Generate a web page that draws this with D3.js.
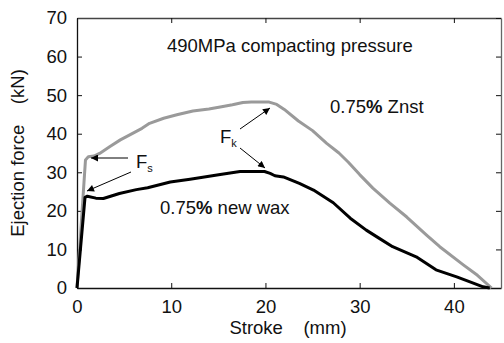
<!DOCTYPE html>
<html><head><meta charset="utf-8">
<script src="https://cdn.jsdelivr.net/npm/d3@7/dist/d3.min.js"></script>
<style>
html,body{margin:0;padding:0;background:#fff;}
text{font-family:"Liberation Sans",Arial,sans-serif;fill:#111;}
</style></head>
<body>
<svg id="chart" width="504" height="343"></svg>
<script>
// Data (Stroke mm, Ejection force kN)
const znstStroke = [0,0.9,1.2,1.8,2.4,3.5,4.6,5.6,6.9,7.7,9.2,10.6,12.3,14,15.2,16.5,17.6,18.5,20.4,21.2,22,23.5,25,26.5,27.8,28.8,30,31.4,33.2,35,37.1,38.5,41,42.5,44];
const znstForce  = [0,33.2,34,34.2,34.9,36.7,38.4,39.7,41.4,42.7,44,44.9,45.9,46.4,46.9,47.5,48.1,48.2,48.2,47.6,46.3,43.3,40.8,37.5,35,32.6,29.4,25.9,22,18.4,13.7,10.7,6,3.3,0];
const waxStroke  = [0,0.85,1.1,2,2.8,4.5,6.3,7.5,9.9,12,15.2,17.3,19.9,20.5,21,21.9,23.6,25.1,27.2,29,30.7,32,33.5,36,38.1,40.3,41.5,43.1,43.8];
const waxForce   = [0,23.5,23.8,23.3,23.2,24.5,25.5,26,27.5,28.2,29.4,30.2,30.2,29.7,29.1,28.8,27.1,25.4,22.1,18.1,15,13,10.7,8.1,4.7,2.9,1.8,0.3,0];
const xTicks = [0,10,20,30,40];
const yTicks = [0,10,20,30,40,50,60,70];
const xDomain = [0,45];
const yDomain = [0,70];
const xLabel = "Stroke\u00a0\u00a0\u00a0\u00a0(mm)";
const yLabel = "Ejection force\u00a0\u00a0\u00a0\u00a0(kN)";
const titleText = "490MPa compacting pressure";

const svg = d3.select("#chart");
const m = {left:77, right:503, top:18, bottom:288};
const x = d3.scaleLinear().domain(xDomain).range([m.left, m.right-2]);
const y = d3.scaleLinear().domain(yDomain).range([m.bottom, m.top]);

svg.append("defs").append("marker")
  .attr("id","arr").attr("viewBox","0 0 10 10").attr("refX",10).attr("refY",5)
  .attr("markerWidth",9).attr("markerHeight",7).attr("markerUnits","userSpaceOnUse")
  .attr("orient","auto")
  .append("path").attr("d","M0,0 L10,5 L0,10 z").attr("fill","#000");

const fs = "18.5px";
const gx = svg.append("g").attr("transform",`translate(0,${m.bottom})`)
  .call(d3.axisBottom(x).tickValues(xTicks).tickSizeInner(-5).tickSizeOuter(0).tickPadding(12));
const gy = svg.append("g").attr("transform",`translate(${m.left},0)`)
  .call(d3.axisLeft(y).tickValues(yTicks).tickSizeInner(-5).tickSizeOuter(0).tickPadding(10));
const gt = svg.append("g").attr("transform",`translate(0,${m.top})`)
  .call(d3.axisTop(x).tickValues(xTicks).tickSizeInner(-5).tickSizeOuter(0).tickFormat(""));
const gr = svg.append("g").attr("transform",`translate(${x(45)},0)`)
  .call(d3.axisRight(y).tickValues(yTicks).tickSizeInner(-5).tickSizeOuter(0).tickFormat(""));
[gx,gy,gt,gr].forEach(g=>{
  g.selectAll("path.domain").attr("stroke","#111").attr("stroke-width",1.3);
  g.selectAll(".tick line").attr("stroke","#111").attr("stroke-width",1);
  g.selectAll("text").style("font-size",fs).style("font-family","'Liberation Sans',Arial,sans-serif").attr("fill","#111");
});
gr.selectAll("path.domain").attr("stroke","#666");
gt.selectAll("path.domain").attr("stroke","#444");

const line = d3.line().x(d=>x(d[0])).y(d=>y(d[1]));
svg.append("path").datum(znstStroke.map((s,i)=>[s,znstForce[i]]))
  .attr("d",line).attr("fill","none").attr("stroke","#9a9a9a").attr("stroke-width",3).attr("stroke-linejoin","round");
svg.append("path").datum(waxStroke.map((s,i)=>[s,waxForce[i]]))
  .attr("d",line).attr("fill","none").attr("stroke","#000").attr("stroke-width",3).attr("stroke-linejoin","round");

svg.append("text").attr("x",288).attr("y",334).attr("text-anchor","middle")
  .style("font-size",fs).text(xLabel);
svg.append("text").attr("transform","translate(24,153) rotate(-90)").attr("text-anchor","middle")
  .style("font-size",fs).text(yLabel);

svg.append("text").attr("x",167).attr("y",52).style("font-size",fs).text(titleText);

const t1 = svg.append("text").attr("x",330).attr("y",113).style("font-size",fs);
t1.append("tspan").text("0.75");
t1.append("tspan").attr("font-weight","bold").text("%");
t1.append("tspan").text(" Znst");
const t2 = svg.append("text").attr("x",160).attr("y",214).style("font-size",fs);
t2.append("tspan").text("0.75");
t2.append("tspan").attr("font-weight","bold").text("%");
t2.append("tspan").text(" new wax");

const fsT = svg.append("text").attr("x",136).attr("y",168).style("font-size",fs);
fsT.append("tspan").text("F");
fsT.append("tspan").attr("dy",4).style("font-size","11px").text("s");
const fkT = svg.append("text").attr("x",220).attr("y",143).style("font-size",fs);
fkT.append("tspan").text("F");
fkT.append("tspan").attr("dy",4).style("font-size","11px").text("k");

const arrows = [[128,158,91,158],[131,172,87,191],[240,129,270,108],[240,148,265,168]];
arrows.forEach(a=>{
  svg.append("line").attr("x1",a[0]).attr("y1",a[1]).attr("x2",a[2]).attr("y2",a[3])
    .attr("stroke","#000").attr("stroke-width",1).attr("marker-end","url(#arr)");
});
</script>
</body></html>
